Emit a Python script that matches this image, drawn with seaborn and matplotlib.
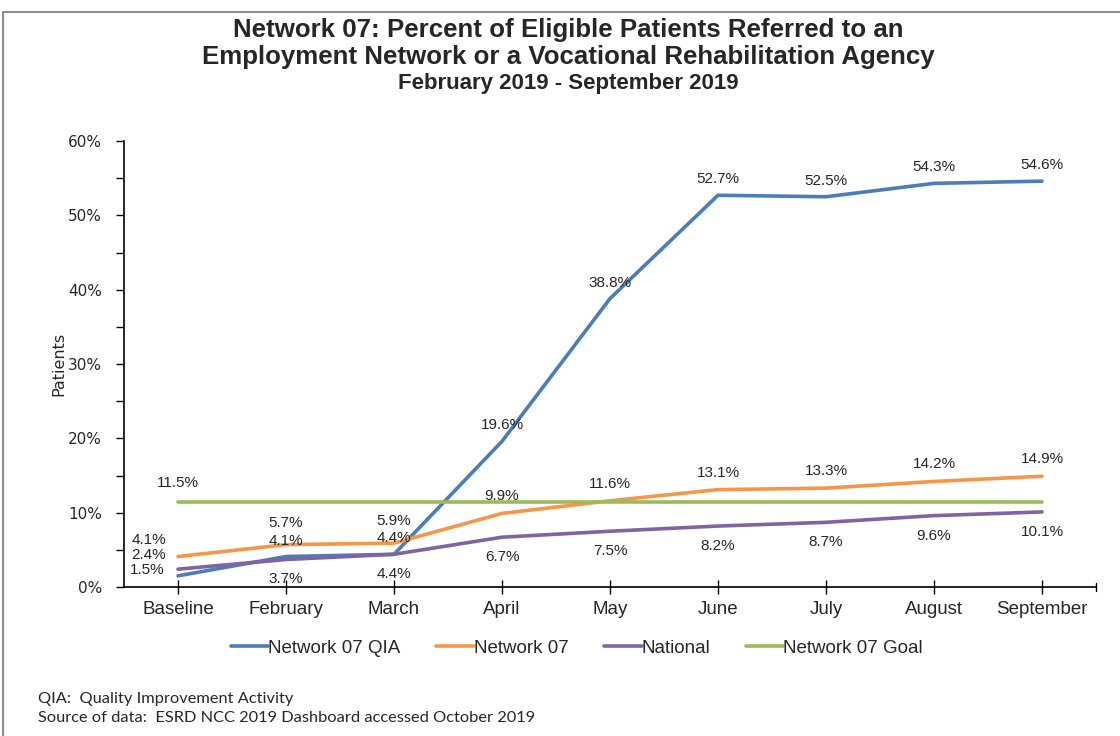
import matplotlib
matplotlib.use("Agg")
import matplotlib.pyplot as plt
import seaborn as sns
import pandas as pd
from matplotlib.lines import Line2D

categories = ["Baseline", "February", "March", "April", "May", "June", "July", "August", "September"]
qia = [1.5, 4.1, 4.4, 19.6, 38.8, 52.7, 52.5, 54.3, 54.6]
network07 = [4.1, 5.7, 5.9, 9.9, 11.6, 13.1, 13.3, 14.2, 14.9]
national = [2.4, 3.7, 4.4, 6.7, 7.5, 8.2, 8.7, 9.6, 10.1]
goal = [11.5] * 9
series_names = ["Network 07 QIA", "Network 07", "National", "Network 07 Goal"]

colors = ["#4A7EBB", "#F79646", "#8064A2", "#9BBB59"]

rows = []
for name, vals in zip(series_names, [qia, network07, national, goal]):
    for i, v in enumerate(vals):
        rows.append({"idx": i, "value": v / 100.0, "series": name})
df = pd.DataFrame(rows)

sns.set_style("white")
plt.rcParams["font.family"] = ["Liberation Sans", "DejaVu Sans"]

fig = plt.figure(figsize=(11.2, 7.36), dpi=100)
ax = fig.add_axes([124 / 1120, 1 - 587 / 736, (1096 - 124) / 1120, (587 - 141) / 736])

sns.lineplot(data=df, x="idx", y="value", hue="series", palette=colors,
             hue_order=series_names, linewidth=2.6, ax=ax, legend=False)

ax.set_xlim(-0.5, 8.5)
ax.set_ylim(0, 0.6)
ax.set_yticks([t / 100 for t in range(0, 61, 5)])
ax.set_yticklabels([f"{t}%" if t % 10 == 0 else "" for t in range(0, 61, 5)],
                   fontfamily="DejaVu Sans", fontsize=11)
ax.set_xticks(range(len(categories)))
ax.set_xticklabels(categories, fontsize=13.5)
ax.tick_params(axis="y", which="both", direction="out", length=6, width=1, color="black", pad=10, left=True)
ax.tick_params(axis="x", direction="inout", length=10, width=1, color="black", pad=5, bottom=True)
ax.set_xlabel("")
ax.set_ylabel("Patients", fontfamily="DejaVu Sans", fontsize=11.5, labelpad=1)
for s in ["top", "right"]:
    ax.spines[s].set_visible(False)
for s in ["left", "bottom"]:
    ax.spines[s].set_color("black")
    ax.spines[s].set_linewidth(1.2)
ax.plot([8.5, 8.5], [-0.006, 0.006], color="black", lw=1, clip_on=False)

fs = 11


def lab(i, v, dx, dy):
    ax.annotate(f"{v:.1f}%", (i, v / 100), xytext=(dx, dy), textcoords="offset pixels",
                ha="center", va="center", fontsize=fs)


for i in range(len(categories)):
    if i == 0:
        lab(i, network07[i], -29, 17)
        lab(i, national[i], -29, 14)
        lab(i, qia[i], -31, 6)
        lab(i, goal[i], 0, 19)
        continue
    lab(i, qia[i], 0, 16)
    if i in (1, 2):
        lab(i, network07[i], 0, 22)
    else:
        lab(i, network07[i], 0, 17)
    lab(i, national[i], 0, -20)

# legend
handles = [Line2D([0], [0], color=c, lw=2.6) for c in colors]
fig.legend(handles, series_names, loc="center", bbox_to_anchor=(577 / 1120, 1 - 648 / 736),
           ncol=4, frameon=False, fontsize=13.5, handlelength=2.0, handletextpad=0.0, columnspacing=1.9)

# titles
fig.text(568 / 1120, 1 - 30 / 736, "Network 07: Percent of Eligible Patients Referred to an",
         ha="center", va="center", fontsize=18.6, fontweight="bold")
fig.text(568 / 1120, 1 - 57 / 736, "Employment Network or a Vocational Rehabilitation Agency",
         ha="center", va="center", fontsize=18.6, fontweight="bold")
fig.text(568 / 1120, 1 - 83 / 736, "February 2019 - September 2019",
         ha="center", va="center", fontsize=16, fontweight="bold")

# footnotes
fig.text(38 / 1120, 1 - 699 / 736, "QIA:  Quality Improvement Activity", ha="left", va="center",
         fontsize=11.8, fontfamily=["Lato", "DejaVu Sans"])
fig.text(38 / 1120, 1 - 718 / 736, "Source of data:  ESRD NCC 2019 Dashboard accessed October 2019", ha="left", va="center",
         fontsize=11.8, fontfamily=["Lato", "DejaVu Sans"])

# border lines
fig.add_artist(Line2D([3 / 1120, 3 / 1120], [0, 1 - 12 / 736], transform=fig.transFigure, color="#8C8C8C", lw=1.5))
fig.add_artist(Line2D([3 / 1120, 1], [1 - 12 / 736, 1 - 12 / 736], transform=fig.transFigure, color="#8C8C8C", lw=1.5))

fig.savefig("out.png", dpi=100)
